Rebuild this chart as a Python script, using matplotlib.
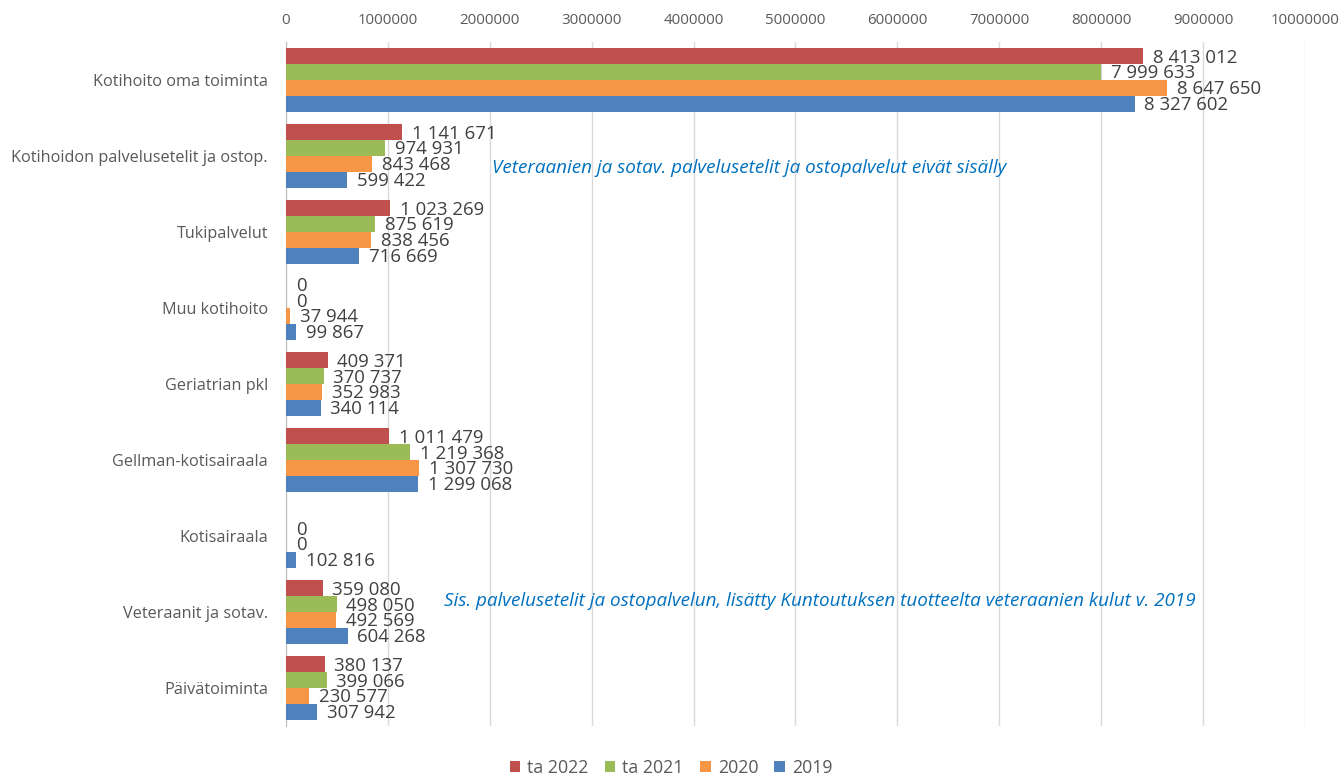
import matplotlib
matplotlib.use("Agg")
import matplotlib.pyplot as plt
import numpy as np

plt.rcParams['font.family'] = ['Open Sans', 'DejaVu Sans']

categories = [
    "Kotihoito oma toiminta",
    "Kotihoidon palvelusetelit ja ostop.",
    "Tukipalvelut",
    "Muu kotihoito",
    "Geriatrian pkl",
    "Gellman-kotisairaala",
    "Kotisairaala",
    "Veteraanit ja sotav.",
    "Päivätoiminta",
]
series_names = ["ta 2022", "ta 2021", "2020", "2019"]
# None = no budget figure entered for that row
ta2022 = [8413012, 1141671, 1023269, 0, 409371, 1011479, None, 359080, 380137]
ta2021 = [7999633, 974931, 875619, 0, 370737, 1219368, 0, 498050, 399066]
y2020 = [8647650, 843468, 838456, 37944, 352983, 1307730, 0, 492569, 230577]
y2019 = [8327602, 599422, 716669, 99867, 340114, 1299068, 102816, 604268, 307942]
colors = ["#C0504D", "#9BBB59", "#F79646", "#4F81BD"]
xticks = list(range(0, 10000001, 1000000))

notes = [
    (1.16, "Veteraanien ja sotav. palvelusetelit ja ostopalvelut eivät sisälly", 2020000),
    (6.86, "Sis. palvelusetelit ja ostopalvelun, lisätty Kuntoutuksen tuotteelta veteraanien kulut v. 2019", 1550000),
]

def fmt(v):
    return f"{v:,}".replace(",", " ")

fig = plt.figure(figsize=(13.42, 7.76), dpi=100)
ax = fig.add_axes([0.2131, 0.0644, 0.7593, 0.8815])

data = [ta2022, ta2021, y2020, y2019]
n = len(categories)
h = 0.83 / 4
idx = np.arange(n)
for j, (vals, col, name) in enumerate(zip(data, colors, series_names)):
    ypos = idx + (j - 1.5) * h
    widths = [np.nan if v is None else v for v in vals]
    ax.barh(ypos, widths, height=h, color=col, label=name, zorder=3)
    for yy, v in zip(ypos, vals):
        if v is None:
            continue
        ax.annotate(fmt(v), xy=(v, yy), xytext=(7, -1), textcoords="offset points",
                    va="center", ha="left", fontsize=13.4, color="#404040", zorder=4)

ax.set_ylim(n - 0.5, -0.5)
ax.set_xlim(0, 10000000)
ax.set_xticks(xticks)
ax.set_xticklabels([str(t) for t in xticks])
ax.xaxis.tick_top()
ax.tick_params(axis="x", length=0, pad=10, labelsize=10.8, labelcolor="#595959")
ax.set_yticks(idx)
ax.set_yticklabels(categories)
ax.tick_params(axis="y", length=0, pad=13, labelsize=11.7, labelcolor="#595959")
ax.grid(axis="x", color="#D9D9D9", linewidth=1, zorder=0)
for s in ["top", "right", "bottom"]:
    ax.spines[s].set_visible(False)
ax.spines["left"].set_color("#BFBFBF")
ax.spines["left"].set_zorder(2)

for cat_i, text, x in notes:
    ax.text(x, cat_i, text, fontsize=13.6, style="italic", color="#0070C0",
            va="center", ha="left", zorder=5)

handles, labels = ax.get_legend_handles_labels()
fig.legend(handles, labels, loc="center", bbox_to_anchor=(0.5, 1 - 768 / 776), ncol=4,
           frameon=False, fontsize=12.8, handlelength=0.6, handleheight=0.6,
           columnspacing=0.9, handletextpad=0.4, labelcolor="#595959")

fig.savefig("out.png", dpi=100)
